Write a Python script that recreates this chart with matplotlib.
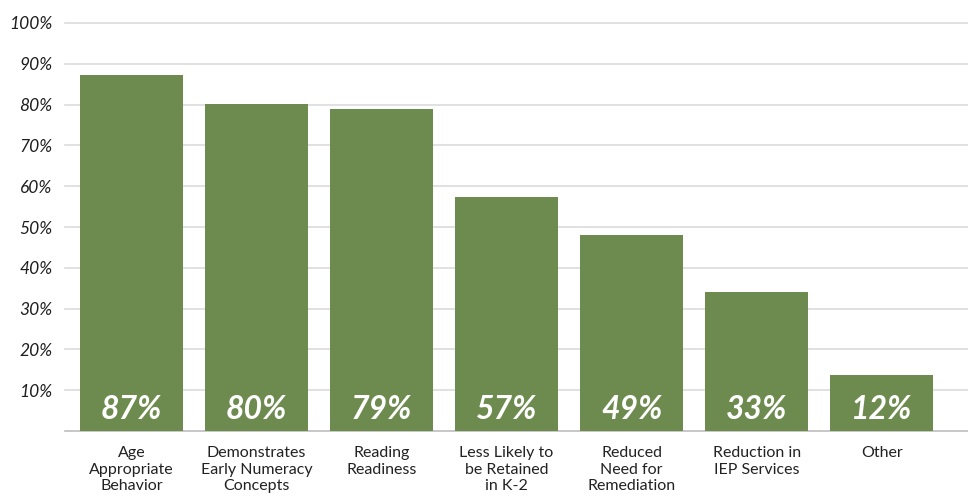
import numpy as np
import matplotlib
matplotlib.use("Agg")
import matplotlib.pyplot as plt

# Datos
categorias = [
    "Age\nAppropriate\nBehavior",
    "Demonstrates\nEarly Numeracy\nConcepts",
    "Reading\nReadiness",
    "Less Likely to\nbe Retained\nin K-2",
    "Reduced\nNeed for\nRemediation",
    "Reduction in\nIEP Services",
    "Other",
]
alturas = [87.3, 80.2, 78.9, 57.3, 48.1, 34.0, 13.8]
etiquetas = ["87%", "80%", "79%", "57%", "49%", "33%", "12%"]
ticks_y = [10, 20, 30, 40, 50, 60, 70, 80, 90, 100]

verde = "#6e8b4f"
plt.rcParams["font.family"] = ["Lato", "DejaVu Sans"]

fig = plt.figure(figsize=(9.68, 4.98), dpi=100)
ax = fig.add_axes([65 / 968, (498 - 431) / 498, (968 - 65) / 968, (431 - 23) / 498])

x = np.arange(len(categorias))
ax.bar(x, alturas, width=0.82, color=verde, zorder=3)

for xi, txt in zip(x, etiquetas):
    ax.text(xi, 5.2, txt, ha="center", va="center", color="white",
            fontsize=23, fontweight="bold", fontstyle="italic", zorder=4)

ax.set_xlim(-0.532, 6.69)
ax.set_ylim(0, 100)
ax.set_yticks(ticks_y)
ax.set_yticklabels([f"{t}%" for t in ticks_y], fontstyle="italic", fontsize=12.5, color="#1e1e1e")
ax.yaxis.grid(True, color="#dcdcdc", linewidth=1.2, zorder=0)
for gl in ax.get_ygridlines():
    gl.set_clip_on(False)
ax.set_xticks(x)
ax.set_xticklabels(categorias, fontsize=11.5, color="#222222", linespacing=1.22)
ax.tick_params(axis="x", length=0, pad=11)
ax.tick_params(axis="y", length=0, pad=9)

for s in ["top", "right", "left"]:
    ax.spines[s].set_visible(False)
ax.spines["bottom"].set_color("#bdbdbd")
ax.spines["bottom"].set_linewidth(1.2)

fig.savefig("out.png", dpi=100)
